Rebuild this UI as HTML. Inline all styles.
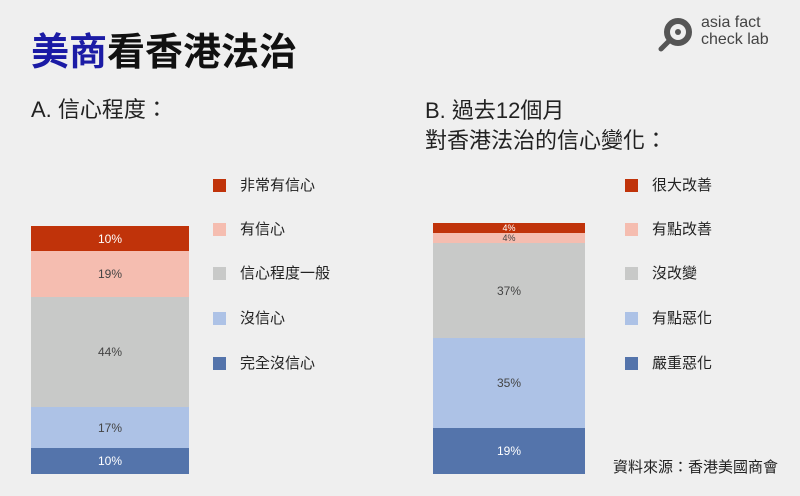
<!DOCTYPE html>
<html><head><meta charset="utf-8"><style>
body{margin:0;width:800px;height:496px;background:#efefef;position:relative;overflow:hidden;font-family:"Liberation Sans","Noto Sans CJK TC",sans-serif;}
.a{position:absolute;}
.seg{position:absolute;display:flex;align-items:center;justify-content:center;font-size:12px;color:#444;}
.sq{position:absolute;width:13px;height:13px;}
.lt{position:absolute;font-size:15px;color:#222;line-height:18px;}
</style></head><body>
<div class="a" style="left:31px;top:26px;font-size:38px;font-weight:bold;line-height:46px;color:#111;font-family:'Noto Sans CJK TC',sans-serif;"><span style="color:#1b1ba5">美商</span>看香港法治</div>
<svg class="a" style="left:656px;top:14px" width="40" height="40" viewBox="0 0 40 40"><circle cx="22" cy="18" r="11" fill="none" stroke="#555" stroke-width="6"/><circle cx="22" cy="18" r="3" fill="#555"/><line x1="13" y1="27" x2="5" y2="35" stroke="#555" stroke-width="5" stroke-linecap="round"/></svg>
<div class="a" style="left:701px;top:14px;font-size:16px;line-height:17px;color:#444;">asia fact<br>check lab</div>
<div class="a" style="left:31px;top:96px;font-size:22px;color:#222;line-height:28px;">A. 信心程度：</div>
<div class="a" style="left:425px;top:96px;font-size:22px;color:#222;line-height:30px;">B. 過去12個月<br>對香港法治的信心變化：</div>

<div class="seg" style="left:31px;top:226px;width:158px;height:25px;background:#c0330a;color:#fff">10%</div>
<div class="seg" style="left:31px;top:251px;width:158px;height:46px;background:#f5bdb0">19%</div>
<div class="seg" style="left:31px;top:297px;width:158px;height:110px;background:#c8c9c8">44%</div>
<div class="seg" style="left:31px;top:407px;width:158px;height:41px;background:#adc2e6">17%</div>
<div class="seg" style="left:31px;top:448px;width:158px;height:26px;background:#5474ab;color:#fff">10%</div>

<div class="seg" style="left:433px;top:223px;width:152px;height:10px;background:#c0330a;color:#fff;font-size:9px">4%</div>
<div class="seg" style="left:433px;top:233px;width:152px;height:10px;background:#f5bdb0;font-size:9px">4%</div>
<div class="seg" style="left:433px;top:243px;width:152px;height:95px;background:#c8c9c8">37%</div>
<div class="seg" style="left:433px;top:338px;width:152px;height:90px;background:#adc2e6">35%</div>
<div class="seg" style="left:433px;top:428px;width:152px;height:46px;background:#5474ab;color:#fff">19%</div>

<div class="sq" style="left:213px;top:179px;background:#c0330a"></div><div class="lt" style="left:240px;top:177px">非常有信心</div>
<div class="sq" style="left:213px;top:223px;background:#f5bdb0"></div><div class="lt" style="left:240px;top:221px">有信心</div>
<div class="sq" style="left:213px;top:267px;background:#c8c9c8"></div><div class="lt" style="left:240px;top:265px">信心程度一般</div>
<div class="sq" style="left:213px;top:312px;background:#adc2e6"></div><div class="lt" style="left:240px;top:310px">沒信心</div>
<div class="sq" style="left:213px;top:357px;background:#5474ab"></div><div class="lt" style="left:240px;top:355px">完全沒信心</div>

<div class="sq" style="left:625px;top:179px;background:#c0330a"></div><div class="lt" style="left:652px;top:177px">很大改善</div>
<div class="sq" style="left:625px;top:223px;background:#f5bdb0"></div><div class="lt" style="left:652px;top:221px">有點改善</div>
<div class="sq" style="left:625px;top:267px;background:#c8c9c8"></div><div class="lt" style="left:652px;top:265px">沒改變</div>
<div class="sq" style="left:625px;top:312px;background:#adc2e6"></div><div class="lt" style="left:652px;top:310px">有點惡化</div>
<div class="sq" style="left:625px;top:357px;background:#5474ab"></div><div class="lt" style="left:652px;top:355px">嚴重惡化</div>

<div class="lt" style="left:613px;top:459px;">資料來源：香港美國商會</div>
</body></html>
